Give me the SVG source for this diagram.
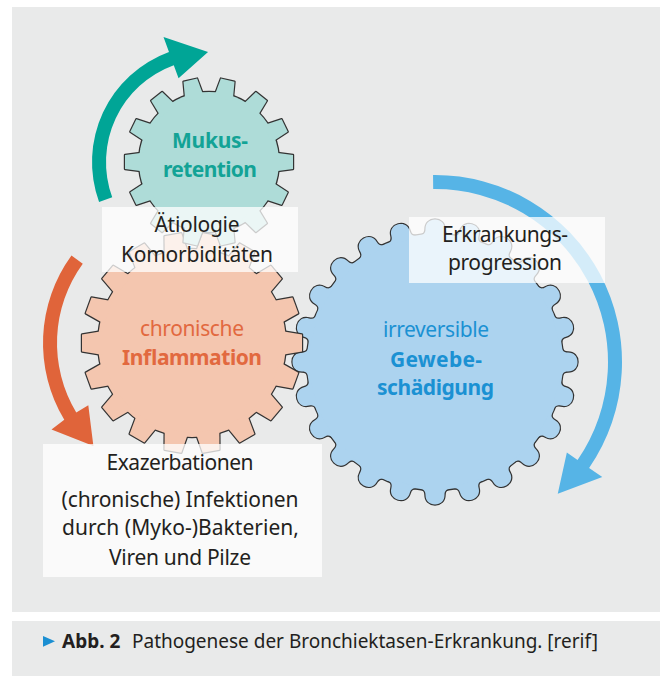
<svg xmlns="http://www.w3.org/2000/svg" width="660" height="676" viewBox="0 0 660 676">
<style>
.bg{fill:#e9eaea}
.ol{stroke:#333333;stroke-width:2.4;stroke-linejoin:round}
.teal{fill:#aedcd8}
.orange{fill:#f4c6af}
.blue{fill:#acd3ef}
.box{fill:#ffffff;fill-opacity:0.75}
.t{font-family:"Noto Sans","Open Sans","DejaVu Sans",sans-serif;font-size:21px;text-anchor:middle}
.dark{fill:#231f20}
.b{font-weight:bold}
.tc{fill:#13a396}
.oc{fill:#e2693f}
.bc{fill:#1b91d3}
</style>
<defs>
  <path id="tt" d="M -9.5,-65 L -7,-84 L 7,-84 L 9.5,-65 Z"/>
  <path id="to" d="M -12,-89 L -8.5,-110 L 8.5,-110 L 12,-89 Z"/>
  <path id="tb" d="M -17,-125 C -12,-127.5 -9.5,-128 -9.5,-133 C -9.5,-139 -5.5,-142.5 0,-142.5 C 5.5,-142.5 9.5,-139 9.5,-133 C 9.5,-128 12,-127.5 17,-125 Z"/>
  <g id="gTeal">
    <circle r="70"/>
    <use href="#tt" transform="rotate(12.857)"/><use href="#tt" transform="rotate(38.571)"/>
    <use href="#tt" transform="rotate(64.286)"/><use href="#tt" transform="rotate(90)"/>
    <use href="#tt" transform="rotate(115.714)"/><use href="#tt" transform="rotate(141.429)"/>
    <use href="#tt" transform="rotate(167.143)"/><use href="#tt" transform="rotate(192.857)"/>
    <use href="#tt" transform="rotate(218.571)"/><use href="#tt" transform="rotate(244.286)"/>
    <use href="#tt" transform="rotate(270)"/><use href="#tt" transform="rotate(295.714)"/>
    <use href="#tt" transform="rotate(321.429)"/><use href="#tt" transform="rotate(347.143)"/>
  </g>
  <g id="gOrange">
    <circle r="94"/>
    <use href="#to" transform="rotate(10)"/><use href="#to" transform="rotate(30)"/>
    <use href="#to" transform="rotate(50)"/><use href="#to" transform="rotate(70)"/>
    <use href="#to" transform="rotate(90)"/><use href="#to" transform="rotate(110)"/>
    <use href="#to" transform="rotate(130)"/><use href="#to" transform="rotate(150)"/>
    <use href="#to" transform="rotate(170)"/><use href="#to" transform="rotate(190)"/>
    <use href="#to" transform="rotate(210)"/><use href="#to" transform="rotate(230)"/>
    <use href="#to" transform="rotate(250)"/><use href="#to" transform="rotate(270)"/>
    <use href="#to" transform="rotate(290)"/><use href="#to" transform="rotate(310)"/>
    <use href="#to" transform="rotate(330)"/><use href="#to" transform="rotate(350)"/>
  </g>
  <g id="gBlue">
    <circle r="128"/>
    <use href="#tb" transform="rotate(0)"/><use href="#tb" transform="rotate(15)"/>
    <use href="#tb" transform="rotate(30)"/><use href="#tb" transform="rotate(45)"/>
    <use href="#tb" transform="rotate(60)"/><use href="#tb" transform="rotate(75)"/>
    <use href="#tb" transform="rotate(90)"/><use href="#tb" transform="rotate(105)"/>
    <use href="#tb" transform="rotate(120)"/><use href="#tb" transform="rotate(135)"/>
    <use href="#tb" transform="rotate(150)"/><use href="#tb" transform="rotate(165)"/>
    <use href="#tb" transform="rotate(180)"/><use href="#tb" transform="rotate(195)"/>
    <use href="#tb" transform="rotate(210)"/><use href="#tb" transform="rotate(225)"/>
    <use href="#tb" transform="rotate(240)"/><use href="#tb" transform="rotate(255)"/>
    <use href="#tb" transform="rotate(270)"/><use href="#tb" transform="rotate(285)"/>
    <use href="#tb" transform="rotate(300)"/><use href="#tb" transform="rotate(315)"/>
    <use href="#tb" transform="rotate(330)"/><use href="#tb" transform="rotate(345)"/>
  </g>
</defs>

<rect class="bg" x="12" y="7" width="648" height="605"/>
<rect class="bg" x="12" y="621" width="648" height="55"/>

<g id="gear-gewebe">
  <g transform="translate(435,362)">
    <use href="#gBlue" class="blue ol"/>
    <use href="#gBlue" class="blue"/>
  </g>
  <text class="t bc" x="436" y="337" textLength="106">irreversible</text>
  <text class="t bc b" x="436" y="367" textLength="92">Gewebe-</text>
  <text class="t bc b" x="435.5" y="395" textLength="117">schädigung</text>
</g>

<g id="gear-inflammation">
  <g transform="translate(192,343)">
    <use href="#gOrange" class="orange ol"/>
    <use href="#gOrange" class="orange"/>
  </g>
  <text class="t oc" x="192" y="335.5" textLength="104">chronische</text>
  <text class="t oc b" x="192" y="364.5" textLength="140">Inflammation</text>
</g>

<g id="gear-mukus">
  <g transform="translate(209,162)">
    <use href="#gTeal" class="teal ol"/>
    <use href="#gTeal" class="teal"/>
  </g>
  <text class="t tc b" x="210" y="148" textLength="76">Mukus-</text>
  <text class="t tc b" x="210" y="177" textLength="94">retention</text>
</g>

<g id="connectors">
  <path id="arrow-teal" fill="#00a596" d="M 99.06,202.01 A 117 117 0 0 1 168.99,52.06 L 163.51,37.02 L 208.04,52 L 178.56,78.37 L 173.77,65.21 A 103 103 0 0 0 112.21,197.23 Z"/>
  <path id="arrow-orange" fill="#e0643a" d="M 71.46,255.42 A 149 149 0 0 0 64.28,419.74 L 51.5,429.5 L 93.4,446 L 88.3,405.3 L 76.28,412.53 A 135 135 0 0 1 82.78,263.65 Z"/>
  <path id="arrow-blue" fill="#56b4e6" d="M 433.04,175.01 A 187 187 0 0 1 589.11,467.92 L 602.29,476.98 L 557.76,493.65 L 566.86,452.62 L 577.57,459.99 A 173 173 0 0 0 433.19,189.01 Z"/>
</g>

<g id="box-aetiologie">
  <rect class="box" x="102" y="207" width="196" height="65"/>
  <text class="t dark" x="197" y="232" textLength="85">Ätiologie</text>
  <text class="t dark" x="197" y="262" textLength="152">Komorbiditäten</text>
</g>

<g id="box-erkrankung">
  <rect class="box" x="409" y="217" width="196" height="66"/>
  <text class="t dark" x="505" y="242" textLength="126">Erkrankungs-</text>
  <text class="t dark" x="505" y="270" textLength="114">progression</text>
</g>

<g id="box-exazerbation">
  <rect class="box" x="43" y="444" width="279" height="133"/>
  <text class="t dark" x="180" y="470" textLength="147">Exazerbationen</text>
  <text class="t dark" x="180" y="507" textLength="237">(chronische) Infektionen</text>
  <text class="t dark" x="180.5" y="535" textLength="237">durch (Myko-)Bakterien,</text>
  <text class="t dark" x="180" y="565" textLength="142">Viren und Pilze</text>
</g>

<g id="caption">
  <polygon points="43,636 55,641.3 43,646.7" fill="#1b8fd2"/>
  <text x="62" y="648" font-family="Noto Sans, Open Sans, DejaVu Sans, sans-serif" font-size="19" fill="#231f20"><tspan font-weight="bold">Abb. 2</tspan><tspan x="132" textLength="466">Pathogenese der Bronchiektasen-Erkrankung. [rerif]</tspan></text>
</g>
</svg>
